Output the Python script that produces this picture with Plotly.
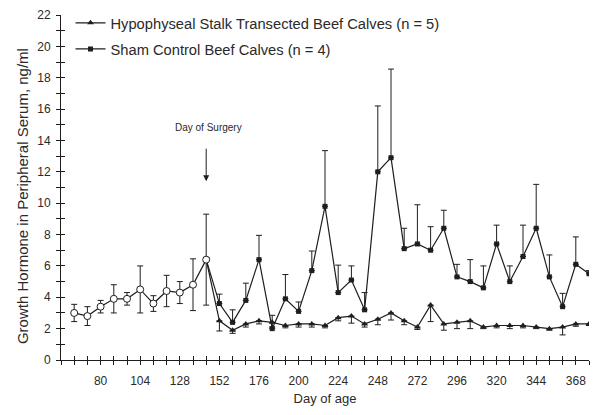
import plotly.graph_objects as go

# Pre-surgery sampling (all calves), open circles
days_pre = [64, 72, 80, 88, 96, 104, 112, 120, 128, 136, 144]
gh_pre = [3.0, 2.8, 3.4, 3.9, 3.9, 4.5, 3.6, 4.4, 4.3, 4.8, 6.4]
sem_pre = [0.55, 0.6, 0.4, 0.9, 0.4, 1.5, 0.5, 1.0, 0.7, 1.65, 2.9]

# Post-surgery sampling
days_post = [152, 160, 168, 176, 184, 192, 200, 208, 216, 224, 232, 240, 248, 256,
             264, 272, 280, 288, 296, 304, 312, 320, 328, 336, 344, 352, 360, 368, 376]
sham = [3.6, 2.4, 3.8, 6.4, 2.0, 3.9, 3.1, 5.7, 9.8, 4.3, 5.1, 3.2, 12.0, 12.9,
        7.1, 7.4, 7.0, 8.4, 5.3, 5.0, 4.6, 7.4, 5.0, 6.6, 8.4, 5.3, 3.4, 6.1, 5.5]
sham_sem = [0.6, 0.8, 1.1, 1.55, 0.85, 1.55, 0.6, 1.25, 3.55, 1.75, 0.9, 1.1, 4.2, 5.65,
            1.3, 2.5, 1.5, 1.15, 0.8, 1.4, 1.4, 1.2, 1.0, 2.0, 2.8, 1.4, 0.85, 1.75, 0.2]
stalk = [2.5, 1.9, 2.3, 2.5, 2.4, 2.2, 2.3, 2.3, 2.2, 2.7, 2.8, 2.3, 2.6, 3.0,
         2.5, 2.1, 3.5, 2.3, 2.4, 2.5, 2.1, 2.2, 2.2, 2.2, 2.1, 2.0, 2.1, 2.3, 2.3]
stalk_sem = [0.65, 0.2, 0.2, 0.2, 0.3, 0.15, 0.2, 0.2, 0.15, 0.2, 0.45, 0.2, 0.35, 0.45,
             0.25, 0.15, 1.05, 0.4, 0.4, 0.5, 0.1, 0.15, 0.2, 0.15, 0.1, 0.1, 0.5, 0.15, 0.1]

x_ticks = list(range(56, 377, 8))
x_labels = [80, 104, 128, 152, 176, 200, 224, 248, 272, 296, 320, 344, 368]
y_ticks = list(range(0, 23))
y_labels = list(range(0, 23, 2))

surgery_day = 144
names = ["Hypophyseal Stalk Transected Beef Calves (n = 5)",
         "Sham Control Beef Calves (n = 4)"]
y_title = "Growth Hormone in Peripheral Serum, ng/ml"

INK = "#1e1e1e"
TXT = "#2a2a2a"
FONT = "Arial, Liberation Sans, sans-serif"

fig = go.Figure()

# both post-surgery series start from the surgery-day mean
x_post = [surgery_day] + days_post

fig.add_trace(go.Scatter(
    x=x_post, y=[gh_pre[-1]] + sham,
    mode="lines+markers", name=names[1], legendgroup="b", legendrank=2,
    line=dict(color=INK, width=1.2),
    marker=dict(symbol="square", size=5, color=INK),
    error_y=dict(type="data", symmetric=False, array=[0] + sham_sem,
                 arrayminus=[0] * len(x_post), color=INK, thickness=1, width=3),
))
fig.add_trace(go.Scatter(
    x=x_post, y=[gh_pre[-1]] + stalk,
    mode="lines+markers", name=names[0], legendgroup="a", legendrank=1,
    line=dict(color=INK, width=1.2),
    marker=dict(symbol="triangle-up", size=6, color=INK),
    error_y=dict(type="data", symmetric=False, array=[0] * len(x_post),
                 arrayminus=[0] + stalk_sem, color=INK, thickness=1, width=3),
))
fig.add_trace(go.Scatter(
    x=days_pre, y=gh_pre, mode="lines+markers", showlegend=False,
    line=dict(color=INK, width=1.2),
    marker=dict(symbol="circle", size=7, color="white", line=dict(color=INK, width=1)),
    error_y=dict(type="data", array=sem_pre, color=INK, thickness=1, width=3),
))
# companion axes carrying the inner half of the tick crosses
fig.add_trace(go.Scatter(x=[], y=[], xaxis="x2", yaxis="y2", showlegend=False))

axis_common = dict(showgrid=False, zeroline=False, tickcolor=INK, ticklen=4, tickwidth=1)

fig.update_layout(
    width=595, height=415,
    margin=dict(l=61, r=6, t=15, b=55),
    paper_bgcolor="white", plot_bgcolor="white",
    font=dict(family=FONT, color=TXT, size=12),
    showlegend=True,
    legend=dict(x=0.018, y=1.024, xanchor="left", yanchor="top",
                bgcolor="rgba(0,0,0,0)", font=dict(size=14.7, color=TXT),
                traceorder="grouped", tracegroupgap=4, itemwidth=30),
    xaxis=dict(range=[56, 376], tickmode="array", tickvals=x_ticks,
               ticktext=[str(v) if v in x_labels else "" for v in x_ticks],
               ticks="outside", showline=True, linecolor=INK, linewidth=1,
               tickfont=dict(size=12, color=TXT), ticklabelstandoff=6,
               title=dict(text="Day of age", font=dict(size=13, color=TXT), standoff=6),
               automargin=False, **axis_common),
    yaxis=dict(range=[0, 22], tickmode="array", tickvals=y_ticks,
               ticktext=[str(v) if v in y_labels else "" for v in y_ticks],
               ticks="outside", showline=True, linecolor=INK, linewidth=1,
               tickfont=dict(size=12, color=TXT), ticklabelstandoff=3,
               automargin=False, **axis_common),
    xaxis2=dict(overlaying="x", anchor="y", side="bottom", range=[56, 376],
                tickmode="array", tickvals=x_ticks, ticks="inside",
                showticklabels=False, showline=False, **axis_common),
    yaxis2=dict(overlaying="y", anchor="x", side="left", range=[0, 22],
                tickmode="array", tickvals=y_ticks, ticks="inside",
                showticklabels=False, showline=False, **axis_common),
)

# y-axis title, sitting a little below the plot's vertical centre
fig.add_annotation(x=-0.074, y=0.475, xref="paper", yref="paper", text=y_title,
                   showarrow=False, textangle=-90, xanchor="center", yanchor="middle",
                   font=dict(size=15, color=TXT))

# surgery marker
fig.add_annotation(x=surgery_day, y=11.4, xref="x", yref="y", text="",
                   showarrow=True, arrowhead=2, arrowsize=1.2, arrowwidth=1,
                   arrowcolor=INK, ax=0, ay=-34)
fig.add_annotation(x=surgery_day + 1.5, y=14.8, xref="x", yref="y",
                   text="Day of Surgery", showarrow=False,
                   font=dict(size=10, color=TXT))

fig.write_html("out.html")
